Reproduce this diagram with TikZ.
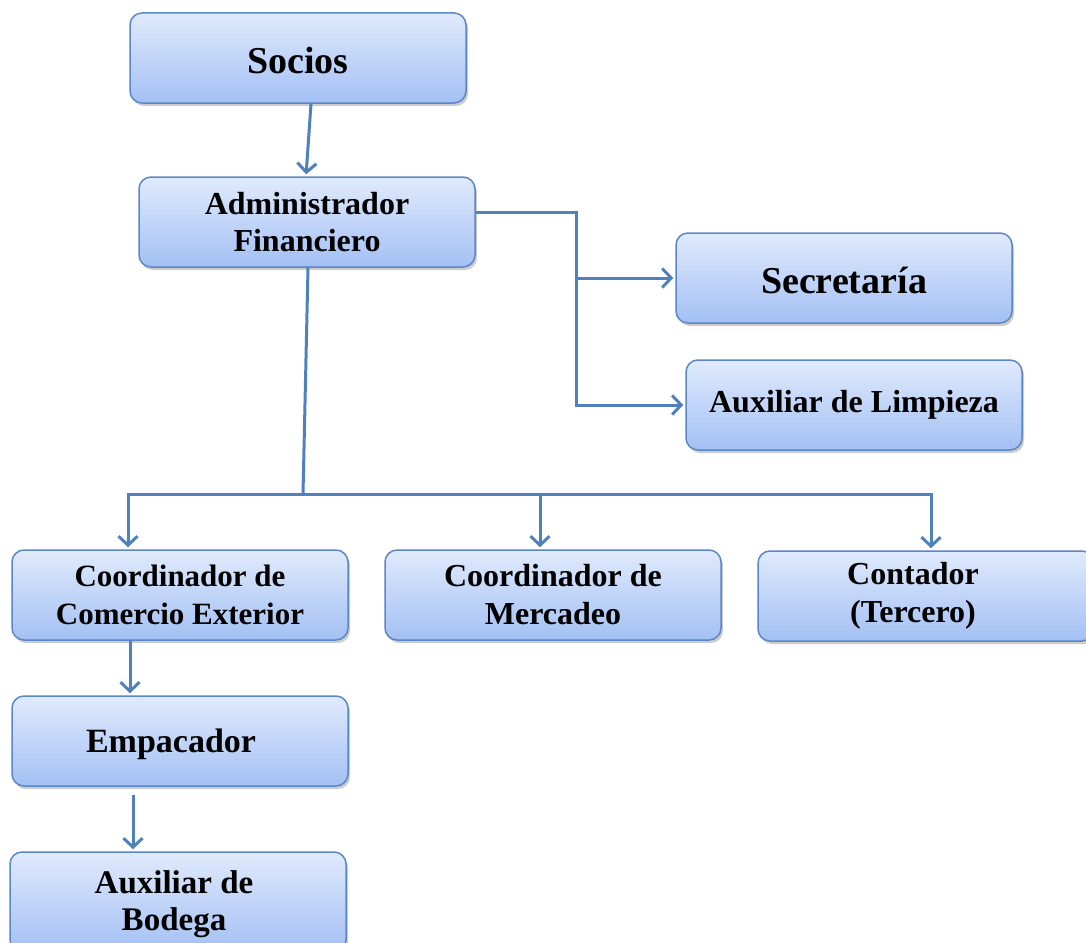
\documentclass[tikz,border=0pt]{standalone}
\usepackage{fontspec}
\setmainfont{Liberation Serif}
\usetikzlibrary{arrows.meta,shadows}
\definecolor{edgeblue}{HTML}{5B87C4}
\definecolor{filltop}{HTML}{E0EAFC}
\definecolor{fillbot}{HTML}{A3C0F4}
\definecolor{linkblue}{HTML}{4F81BD}
\begin{document}
\begin{tikzpicture}[x=1pt,y=-1pt,
  box/.style={draw=edgeblue, line width=1.5pt, rounded corners=12pt,
    top color=filltop, bottom color=fillbot,
    minimum width=336pt, minimum height=90pt, inner sep=0pt,
    align=center,
    drop shadow={opacity=0.4, shadow xshift=2pt, shadow yshift=-3pt}},
  lbl/.style={align=center, inner sep=0pt},
  link/.style={draw=linkblue, line width=3pt},
  conn/.style={link, -{Straight Barb[length=9pt,width=19pt,line width=3pt]}, shorten >=2pt}]
\useasboundingbox (0,0) rectangle (1086,942);
\fill[white] (0,0) rectangle (1086,942);

\node[box, label={[lbl, yshift=-3pt, font=\fontsize{38}{40}\bfseries\selectfont]center:Socios}] (socios) at (298,58) {};
\node[box, font=\fontsize{32}{37}\bfseries\selectfont] (admin) at (307,222) {Administrador\\Financiero};
\node[box, label={[lbl, yshift=-2pt, font=\fontsize{38}{40}\bfseries\selectfont]center:Secretaría}] (secre) at (844,278) {};
\node[box, font=\fontsize{32}{37}\bfseries\selectfont] (limp) at (854,405) {Auxiliar de Limpieza};
\node[box, font=\fontsize{31}{38}\bfseries\selectfont] (coord) at (180,595) {Coordinador de\\Comercio Exterior};
\node[box, font=\fontsize{32}{38}\bfseries\selectfont] (merc) at (553,595) {Coordinador de\\Mercadeo};
\node[box, label={[lbl, xshift=-13pt, font=\fontsize{32}{38}\bfseries\selectfont]center:Contador\\(Tercero)}] (conta) at (926,596) {};
\node[box, label={[lbl, xshift=-9pt, yshift=-3pt, font=\fontsize{34}{38}\bfseries\selectfont]center:Empacador}] (empac) at (180,741) {};
\node[box, minimum height=100pt, label={[lbl, xshift=-4pt, yshift=-2pt, font=\fontsize{33}{37}\bfseries\selectfont]center:Auxiliar de\\Bodega}] (bodega) at (178,902) {};

% Socios -> Administrador
\draw[conn] ([xshift=13pt]socios.south) -- ([xshift=-1pt]admin.north);

% Administrador -> Secretaria / Limpieza
\coordinate (jr) at (576,212);
\draw[conn] ([yshift=10pt]admin.east) -- (jr) |- (limp.west);
\draw[conn] (jr |- secre.west) -- (secre.west);

% Administrador -> bus
\coordinate (bus) at (303,494);
\draw[link] ([xshift=1pt]admin.south) -- (bus);
\draw[conn] (bus) -| ([xshift=-52pt]coord.north);
\draw[conn] (bus) -| ([xshift=-13pt]merc.north);
\draw[conn] (bus) -| ([xshift=5pt]conta.north);

% Chain on the left
\draw[conn] ([xshift=-50pt]coord.south) -- ([xshift=-50pt]empac.north);
\draw[conn, shorten <=8pt] ([xshift=-47pt]empac.south) -- ([xshift=-45pt]bodega.north);
\end{tikzpicture}
\end{document}
